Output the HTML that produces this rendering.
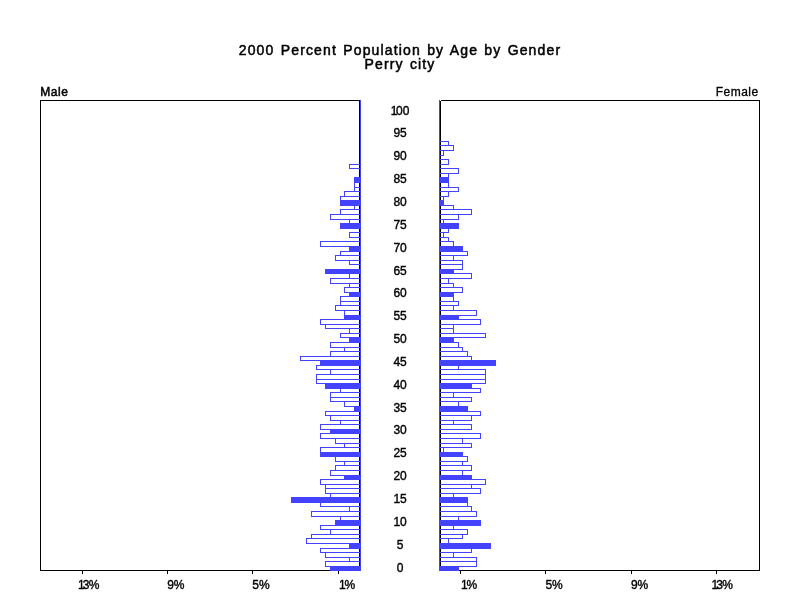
<!DOCTYPE html>
<html lang="en"><head><meta charset="utf-8"><title>2000 Percent Population by Age by Gender - Perry city</title>
<style>
html,body{margin:0;padding:0;background:#fff;}
body{width:800px;height:600px;overflow:hidden;position:relative;font-family:"Liberation Sans",Arial,Helvetica,sans-serif;color:#000;}
svg{position:absolute;left:0;top:0;display:block;}
.t{position:absolute;white-space:nowrap;line-height:1;}
.title{left:0;width:800px;text-align:center;font-size:14px;-webkit-text-stroke:0.5px #000;letter-spacing:1.15px;word-spacing:1.2px;}
.lab{font-size:12px;-webkit-text-stroke:0.38px #000;letter-spacing:-0.05px;}
.age{left:370px;width:60px;text-align:center;}
</style></head><body>
<svg width="800" height="600" viewBox="0 0 800 600" shape-rendering="crispEdges">
<g fill="none" stroke="#000" stroke-width="1">
<path d="M359.5 100.5H40.5V570.5H359.5"/>
<path d="M359.5 100.5V570"/>
<path d="M440.5 100.5H759.5V570.5H440.5"/>
<path d="M440.5 100.5V570"/>
<path d="M82.5 571V574"/>
<path d="M167.5 571V574"/>
<path d="M252.5 571V574"/>
<path d="M338.5 571V574"/>
<path d="M460.5 571V574"/>
<path d="M545.5 571V574"/>
<path d="M631.5 571V574"/>
<path d="M716.5 571V574"/>
</g>
<g fill="none" stroke="#4242ff" stroke-width="1">
<path d="M360.5 100V571"/><path d="M439.5 100V571"/>
<rect x="330" y="566" width="31" height="5" fill="#4242ff" stroke="none"/>
<rect x="439" y="566" width="20" height="5" fill="#4242ff" stroke="none"/>
<rect x="325.5" y="561.5" width="35" height="5"/>
<rect x="439.5" y="561.5" width="37" height="5"/>
<rect x="349.5" y="557.5" width="11" height="4"/>
<rect x="439.5" y="557.5" width="37" height="4"/>
<rect x="325.5" y="552.5" width="35" height="5"/>
<rect x="439.5" y="552.5" width="14" height="5"/>
<rect x="320.5" y="548.5" width="40" height="4"/>
<rect x="439.5" y="548.5" width="32" height="4"/>
<rect x="349" y="543" width="12" height="6" fill="#4242ff" stroke="none"/>
<rect x="439" y="543" width="52" height="6" fill="#4242ff" stroke="none"/>
<rect x="306.5" y="538.5" width="54" height="5"/>
<rect x="439.5" y="538.5" width="9" height="5"/>
<rect x="311.5" y="534.5" width="49" height="4"/>
<rect x="439.5" y="534.5" width="23" height="4"/>
<rect x="330.5" y="529.5" width="30" height="5"/>
<rect x="439.5" y="529.5" width="28" height="5"/>
<rect x="320.5" y="525.5" width="40" height="4"/>
<rect x="439.5" y="525.5" width="14" height="4"/>
<rect x="335" y="520" width="26" height="6" fill="#4242ff" stroke="none"/>
<rect x="439" y="520" width="42" height="6" fill="#4242ff" stroke="none"/>
<rect x="340.5" y="516.5" width="20" height="4"/>
<rect x="439.5" y="516.5" width="19" height="4"/>
<rect x="311.5" y="511.5" width="49" height="5"/>
<rect x="439.5" y="511.5" width="37" height="5"/>
<rect x="349.5" y="506.5" width="11" height="5"/>
<rect x="439.5" y="506.5" width="32" height="5"/>
<rect x="320.5" y="502.5" width="40" height="4"/>
<rect x="439.5" y="502.5" width="28" height="4"/>
<rect x="291" y="497" width="70" height="6" fill="#4242ff" stroke="none"/>
<rect x="439" y="497" width="29" height="6" fill="#4242ff" stroke="none"/>
<rect x="330.5" y="493.5" width="30" height="4"/>
<rect x="439.5" y="493.5" width="14" height="4"/>
<rect x="325.5" y="488.5" width="35" height="5"/>
<rect x="439.5" y="488.5" width="41" height="5"/>
<rect x="325.5" y="484.5" width="35" height="4"/>
<rect x="439.5" y="484.5" width="32" height="4"/>
<rect x="320.5" y="479.5" width="40" height="5"/>
<rect x="439.5" y="479.5" width="46" height="5"/>
<rect x="344" y="475" width="17" height="5" fill="#4242ff" stroke="none"/>
<rect x="439" y="475" width="33" height="5" fill="#4242ff" stroke="none"/>
<rect x="330.5" y="470.5" width="30" height="5"/>
<rect x="439.5" y="470.5" width="23" height="5"/>
<rect x="335.5" y="465.5" width="25" height="5"/>
<rect x="439.5" y="465.5" width="32" height="5"/>
<rect x="344.5" y="461.5" width="16" height="4"/>
<rect x="439.5" y="461.5" width="23" height="4"/>
<rect x="335.5" y="456.5" width="25" height="5"/>
<rect x="439.5" y="456.5" width="28" height="5"/>
<rect x="320" y="452" width="41" height="5" fill="#4242ff" stroke="none"/>
<rect x="439" y="452" width="24" height="5" fill="#4242ff" stroke="none"/>
<rect x="320.5" y="447.5" width="40" height="5"/>
<rect x="439.5" y="447.5" width="4" height="5"/>
<rect x="344.5" y="443.5" width="16" height="4"/>
<rect x="439.5" y="443.5" width="32" height="4"/>
<rect x="335.5" y="438.5" width="25" height="5"/>
<rect x="439.5" y="438.5" width="23" height="5"/>
<rect x="320.5" y="433.5" width="40" height="5"/>
<rect x="439.5" y="433.5" width="41" height="5"/>
<rect x="330" y="429" width="31" height="5" fill="#4242ff" stroke="none"/>
<rect x="320.5" y="424.5" width="40" height="5"/>
<rect x="439.5" y="424.5" width="32" height="5"/>
<rect x="340.5" y="420.5" width="20" height="4"/>
<rect x="439.5" y="420.5" width="14" height="4"/>
<rect x="330.5" y="415.5" width="30" height="5"/>
<rect x="439.5" y="415.5" width="32" height="5"/>
<rect x="325.5" y="411.5" width="35" height="4"/>
<rect x="439.5" y="411.5" width="41" height="4"/>
<rect x="354" y="406" width="7" height="6" fill="#4242ff" stroke="none"/>
<rect x="439" y="406" width="29" height="6" fill="#4242ff" stroke="none"/>
<rect x="344.5" y="401.5" width="16" height="5"/>
<rect x="439.5" y="401.5" width="19" height="5"/>
<rect x="330.5" y="397.5" width="30" height="4"/>
<rect x="439.5" y="397.5" width="32" height="4"/>
<rect x="330.5" y="392.5" width="30" height="5"/>
<rect x="439.5" y="392.5" width="14" height="5"/>
<rect x="340.5" y="388.5" width="20" height="4"/>
<rect x="439.5" y="388.5" width="41" height="4"/>
<rect x="325" y="383" width="36" height="6" fill="#4242ff" stroke="none"/>
<rect x="439" y="383" width="33" height="6" fill="#4242ff" stroke="none"/>
<rect x="316.5" y="379.5" width="44" height="4"/>
<rect x="439.5" y="379.5" width="46" height="4"/>
<rect x="316.5" y="374.5" width="44" height="5"/>
<rect x="439.5" y="374.5" width="46" height="5"/>
<rect x="330.5" y="369.5" width="30" height="5"/>
<rect x="439.5" y="369.5" width="46" height="5"/>
<rect x="316.5" y="365.5" width="44" height="4"/>
<rect x="439.5" y="365.5" width="19" height="4"/>
<rect x="320" y="360" width="41" height="6" fill="#4242ff" stroke="none"/>
<rect x="439" y="360" width="57" height="6" fill="#4242ff" stroke="none"/>
<rect x="300.5" y="356.5" width="60" height="4"/>
<rect x="439.5" y="356.5" width="32" height="4"/>
<rect x="330.5" y="351.5" width="30" height="5"/>
<rect x="439.5" y="351.5" width="28" height="5"/>
<rect x="344.5" y="347.5" width="16" height="4"/>
<rect x="439.5" y="347.5" width="23" height="4"/>
<rect x="330.5" y="342.5" width="30" height="5"/>
<rect x="439.5" y="342.5" width="19" height="5"/>
<rect x="349" y="337" width="12" height="6" fill="#4242ff" stroke="none"/>
<rect x="439" y="337" width="15" height="6" fill="#4242ff" stroke="none"/>
<rect x="340.5" y="333.5" width="20" height="4"/>
<rect x="439.5" y="333.5" width="46" height="4"/>
<rect x="349.5" y="328.5" width="11" height="5"/>
<rect x="439.5" y="328.5" width="14" height="5"/>
<rect x="325.5" y="324.5" width="35" height="4"/>
<rect x="439.5" y="324.5" width="14" height="4"/>
<rect x="320.5" y="319.5" width="40" height="5"/>
<rect x="439.5" y="319.5" width="41" height="5"/>
<rect x="344" y="315" width="17" height="5" fill="#4242ff" stroke="none"/>
<rect x="439" y="315" width="20" height="5" fill="#4242ff" stroke="none"/>
<rect x="344.5" y="310.5" width="16" height="5"/>
<rect x="439.5" y="310.5" width="37" height="5"/>
<rect x="335.5" y="305.5" width="25" height="5"/>
<rect x="439.5" y="305.5" width="14" height="5"/>
<rect x="340.5" y="301.5" width="20" height="4"/>
<rect x="439.5" y="301.5" width="19" height="4"/>
<rect x="340.5" y="296.5" width="20" height="5"/>
<rect x="439.5" y="296.5" width="14" height="5"/>
<rect x="349" y="292" width="12" height="5" fill="#4242ff" stroke="none"/>
<rect x="439" y="292" width="15" height="5" fill="#4242ff" stroke="none"/>
<rect x="344.5" y="287.5" width="16" height="5"/>
<rect x="439.5" y="287.5" width="23" height="5"/>
<rect x="349.5" y="283.5" width="11" height="4"/>
<rect x="439.5" y="283.5" width="14" height="4"/>
<rect x="330.5" y="278.5" width="30" height="5"/>
<rect x="439.5" y="278.5" width="9" height="5"/>
<rect x="349.5" y="273.5" width="11" height="5"/>
<rect x="439.5" y="273.5" width="32" height="5"/>
<rect x="325" y="269" width="36" height="5" fill="#4242ff" stroke="none"/>
<rect x="439" y="269" width="15" height="5" fill="#4242ff" stroke="none"/>
<rect x="439.5" y="264.5" width="23" height="5"/>
<rect x="349.5" y="260.5" width="11" height="4"/>
<rect x="439.5" y="260.5" width="23" height="4"/>
<rect x="335.5" y="255.5" width="25" height="5"/>
<rect x="439.5" y="255.5" width="14" height="5"/>
<rect x="340.5" y="251.5" width="20" height="4"/>
<rect x="439.5" y="251.5" width="28" height="4"/>
<rect x="349" y="246" width="12" height="6" fill="#4242ff" stroke="none"/>
<rect x="439" y="246" width="24" height="6" fill="#4242ff" stroke="none"/>
<rect x="320.5" y="241.5" width="40" height="5"/>
<rect x="439.5" y="241.5" width="14" height="5"/>
<rect x="439.5" y="237.5" width="9" height="4"/>
<rect x="349.5" y="232.5" width="11" height="5"/>
<rect x="439.5" y="232.5" width="4" height="5"/>
<rect x="439.5" y="228.5" width="9" height="4"/>
<rect x="340" y="223" width="21" height="6" fill="#4242ff" stroke="none"/>
<rect x="439" y="223" width="20" height="6" fill="#4242ff" stroke="none"/>
<rect x="349.5" y="219.5" width="11" height="4"/>
<rect x="439.5" y="219.5" width="4" height="4"/>
<rect x="330.5" y="214.5" width="30" height="5"/>
<rect x="439.5" y="214.5" width="19" height="5"/>
<rect x="340.5" y="209.5" width="20" height="5"/>
<rect x="439.5" y="209.5" width="32" height="5"/>
<rect x="354.5" y="205.5" width="6" height="4"/>
<rect x="439.5" y="205.5" width="14" height="4"/>
<rect x="340" y="200" width="21" height="6" fill="#4242ff" stroke="none"/>
<rect x="439" y="200" width="5" height="6" fill="#4242ff" stroke="none"/>
<rect x="340.5" y="196.5" width="20" height="4"/>
<rect x="439.5" y="196.5" width="4" height="4"/>
<rect x="344.5" y="191.5" width="16" height="5"/>
<rect x="439.5" y="191.5" width="9" height="5"/>
<rect x="354.5" y="187.5" width="6" height="4"/>
<rect x="439.5" y="187.5" width="19" height="4"/>
<rect x="354.5" y="182.5" width="6" height="5"/>
<rect x="439.5" y="182.5" width="9" height="5"/>
<rect x="354" y="177" width="7" height="6" fill="#4242ff" stroke="none"/>
<rect x="439" y="177" width="10" height="6" fill="#4242ff" stroke="none"/>
<rect x="439.5" y="173.5" width="9" height="4"/>
<rect x="439.5" y="168.5" width="19" height="5"/>
<rect x="349.5" y="164.5" width="11" height="4"/>
<rect x="439.5" y="159.5" width="9" height="5"/>
<rect x="439.5" y="150.5" width="4" height="5"/>
<rect x="439.5" y="145.5" width="14" height="5"/>
<rect x="439.5" y="141.5" width="9" height="4"/>
</g>
</svg>
<div class="t title" style="top:42.6px">2000 Percent Population by Age by Gender</div>
<div class="t title" style="top:57px">Perry city</div>
<div class="t lab" style="left:40.3px;top:86.4px;-webkit-text-stroke:0.5px #000;letter-spacing:0.55px">Male</div>
<div class="t lab" style="right:41.3px;top:86.3px;-webkit-text-stroke:0.3px #000;letter-spacing:0.5px">Female</div>
<div class="t lab age" style="top:561.5px">0</div>
<div class="t lab age" style="top:538.7px">5</div>
<div class="t lab age" style="top:515.8px">10</div>
<div class="t lab age" style="top:493.0px">15</div>
<div class="t lab age" style="top:470.1px">20</div>
<div class="t lab age" style="top:447.3px">25</div>
<div class="t lab age" style="top:424.4px">30</div>
<div class="t lab age" style="top:401.6px">35</div>
<div class="t lab age" style="top:378.7px">40</div>
<div class="t lab age" style="top:355.9px">45</div>
<div class="t lab age" style="top:333.0px">50</div>
<div class="t lab age" style="top:310.2px">55</div>
<div class="t lab age" style="top:287.3px">60</div>
<div class="t lab age" style="top:264.5px">65</div>
<div class="t lab age" style="top:241.6px">70</div>
<div class="t lab age" style="top:218.8px">75</div>
<div class="t lab age" style="top:195.9px">80</div>
<div class="t lab age" style="top:173.1px">85</div>
<div class="t lab age" style="top:150.2px">90</div>
<div class="t lab age" style="top:127.4px">95</div>
<div class="t lab age" style="top:104.5px"><span style="letter-spacing:-1.2px">1</span>00</div>
<div class="t lab" style="left:78px;top:578.9px"><span style="letter-spacing:-2px">1</span><span style="letter-spacing:-0.6px">3</span>%</div>
<div class="t lab" style="left:167.2px;top:578.9px">9%</div>
<div class="t lab" style="left:252.3px;top:578.9px">5%</div>
<div class="t lab" style="left:339px;top:578.9px"><span style="letter-spacing:-1.1px">1</span>%</div>
<div class="t lab" style="left:461px;top:578.9px"><span style="letter-spacing:-1.1px">1</span>%</div>
<div class="t lab" style="left:545.4px;top:578.9px">5%</div>
<div class="t lab" style="left:631px;top:578.9px">9%</div>
<div class="t lab" style="left:711.6px;top:578.9px"><span style="letter-spacing:-2px">1</span><span style="letter-spacing:-0.6px">3</span>%</div>
</body></html>
